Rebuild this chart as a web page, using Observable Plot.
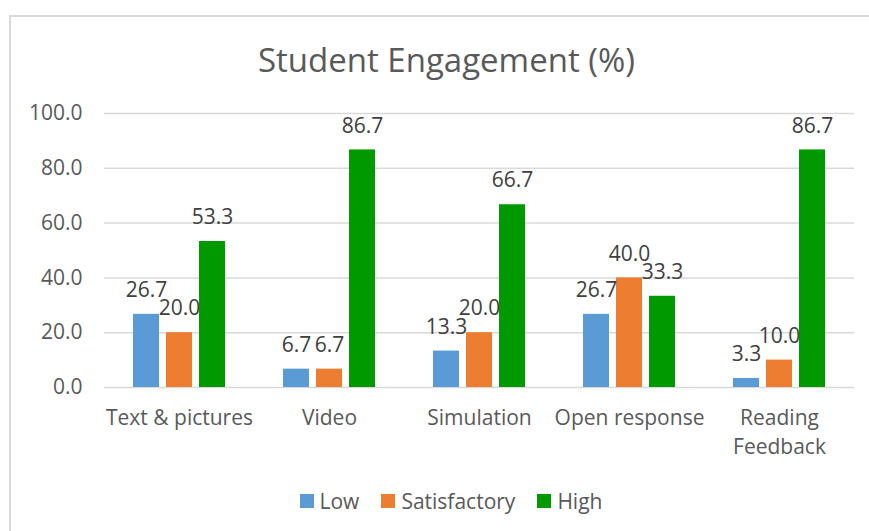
<!DOCTYPE html>
<html>
<head>
<meta charset="utf-8">
<script src="https://cdn.jsdelivr.net/npm/d3@7"></script>
<script src="https://cdn.jsdelivr.net/npm/@observablehq/plot@0.6"></script>
<style>
  html, body { margin: 0; padding: 0; background: #fff; }
  body { width: 869px; height: 531px; position: relative; overflow: hidden; font-family: "Open Sans", sans-serif; color: #595959; }
  #frame { position: absolute; left: 9px; top: 15px; width: 880px; height: 540px; border: 2px solid #d9d9d9; box-sizing: border-box; }
  #title { position: absolute; left: 0; top: 0; width: 869px; height: 90px; text-align: center; font-size: 33px; line-height: 1; padding-top: 43px; box-sizing: border-box; padding-left: 24px; }
  #chart { position: absolute; left: 0; top: 90px; }
  #legend { position: absolute; left: 0; top: 470px; width: 869px; height: 61px; display: flex; justify-content: center; align-items: center; padding-left: 33px; box-sizing: border-box; font-size: 21px; }
  .item { display: flex; align-items: center; margin: 0 11px; }
  .sw { width: 14px; height: 14px; margin-right: 6px; }
</style>
</head>
<body>
<div id="frame"></div>
<div id="title">Student Engagement (%)</div>
<div id="chart"></div>
<div id="legend"></div>
<script>
const categories = ["Text & pictures", "Video", "Simulation", "Open response", "Reading Feedback"];
const categoryLabels = ["Text & pictures", "Video", "Simulation", "Open response", "Reading\nFeedback"];
const series = ["Low", "Satisfactory", "High"];
const colors = ["#5B9BD5", "#ED7D31", "#009900"];
const lowValues = [26.7, 6.7, 13.3, 26.7, 3.3];
const satisfactoryValues = [20.0, 6.7, 20.0, 40.0, 10.0];
const highValues = [53.3, 86.7, 66.7, 33.3, 86.7];
const yTicks = [0, 20, 40, 60, 80, 100];

const valuesBySeries = [lowValues, satisfactoryValues, highValues];
const data = [];
categories.forEach((c, i) => {
  series.forEach((s, j) => data.push({category: c, series: s, value: valuesBySeries[j][i]}));
});

const plot = Plot.plot({
  width: 869,
  height: 380,
  marginTop: 23,
  marginBottom: 83,
  marginLeft: 103,
  marginRight: 15,
  style: {fontFamily: "'Open Sans', sans-serif", fontSize: "21px", color: "#595959", background: "transparent"},
  fx: {domain: categories, padding: 0, label: null},
  x: {domain: series, paddingInner: 0.2, paddingOuter: 0.855, axis: null},
  y: {domain: [0, 100], ticks: yTicks, tickFormat: d => d.toFixed(1), tickSize: 0, tickPadding: 22, label: null},
  color: {domain: series, range: colors},
  marks: [
    Plot.ruleY(yTicks, {stroke: "#d9d9d9", strokeWidth: 1.5}),
    Plot.barY(data, {fx: "category", x: "series", y: "value", fill: "series"}),
    Plot.text(data, {fx: "category", x: "series", y: "value", text: d => d.value.toFixed(1), dy: -24, fill: "#404040", fontSize: 21}),
    Plot.axisFx({anchor: "bottom", tickSize: 0, tickPadding: 16, lineHeight: 1.42, fontSize: 21, fill: "#595959", label: null,
      tickFormat: d => categoryLabels[categories.indexOf(d)]})
  ]
});
document.getElementById("chart").appendChild(plot);

const color = plot.scale("color");
const legend = document.getElementById("legend");
series.forEach(s => {
  const item = document.createElement("div");
  item.className = "item";
  const sw = document.createElement("span");
  sw.className = "sw";
  sw.style.background = color.apply(s);
  const label = document.createElement("span");
  label.textContent = s;
  item.appendChild(sw);
  item.appendChild(label);
  legend.appendChild(item);
});
</script>
</body>
</html>
